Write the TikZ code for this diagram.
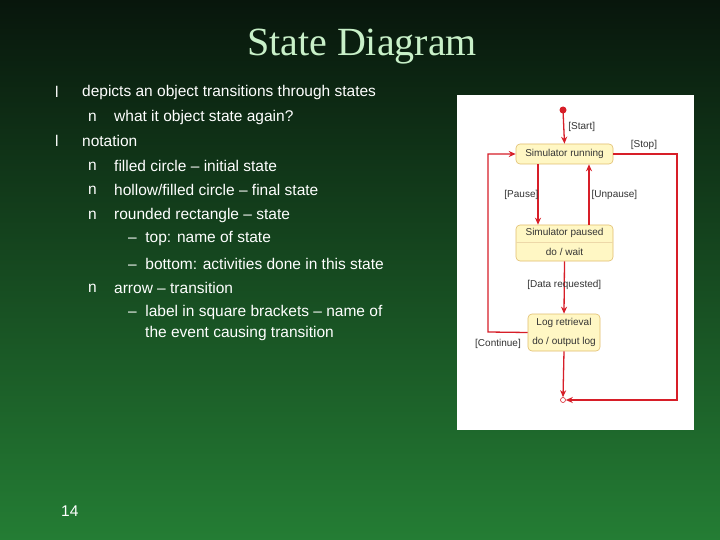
\documentclass[tikz,border=0pt]{standalone}
\usepackage{fontspec}
\setmainfont{Liberation Sans}
\newfontfamily\titlefont{Liberation Serif}
\usetikzlibrary{arrows.meta}
\definecolor{bgtop}{RGB}{8,22,12}
\definecolor{bgbot}{RGB}{36,125,52}
\definecolor{ttl}{RGB}{200,240,200}
\definecolor{arr}{RGB}{215,30,40}
\definecolor{stfill}{RGB}{255,247,196}
\definecolor{stdraw}{RGB}{225,190,110}
\tikzset{
 body/.style={anchor=west,text=white,font=\fontsize{15.5}{18}\selectfont,inner sep=0},
 state/.style={draw=stdraw,fill=stfill,rounded corners=4pt,line width=0.6pt},
 lbl/.style={font=\fontsize{10}{12}\selectfont,text=black!80,inner sep=1pt},
 tr/.style={draw=arr,line width=1.3pt,-{Stealth[length=7pt,width=6pt]}},
}
\begin{document}
\begin{tikzpicture}[x=1pt,y=-1pt]
\shade[top color=bgtop,bottom color=bgbot] (0,0) rectangle (720,540);
\useasboundingbox (0,0) rectangle (720,540);
\node[text=ttl,font=\titlefont\fontsize{40}{44}\selectfont] (title) at (362,47) {State Diagram};
\node[body] (b1) at (55,92) {l};
\node[body] (t1) at (82,92) {depicts an object transitions through states};
\node[body] (b2) at (88,117) {n};
\node[body] (t2) at (114,117) {what it object state again?};
\node[body] (b3) at (55,141) {l};
\node[body] (t3) at (82,141) {notation};
\node[body] (b4) at (88,166) {n};
\node[body] (t4) at (114,166) {filled circle -- initial state};
\node[body] (b5) at (88,190) {n};
\node[body] (t5) at (114,190) {hollow/filled circle -- final state};
\node[body] (b6) at (88,215) {n};
\node[body] (t6) at (114,215) {rounded rectangle -- state};
\node[body] (t7) at (128,239) {--\ \ top: name of state};
\node[body] (t8) at (128,264) {--\ \ bottom: activities done in this state};
\node[body] (b9) at (88,288) {n};
\node[body] (t9) at (114,288) {arrow -- transition};
\node[body] (t10) at (128,312) {--\ \ label in square brackets -- name of};
\node[body] (t11) at (145,333) {the event causing transition};
\node[body] (pg) at (61,511) {14};
% diagram panel
\fill[white] (457,95) rectangle (694,430);
\fill[arr] (563,110) circle (3.5pt);
\coordinate (init) at (563,110);
\node[state,minimum width=97,minimum height=20] (run) at (564.5,154) {};
\node[lbl] at (run) {Simulator running};
\node[state,minimum width=97,minimum height=36] (pau) at (564.5,243) {};
\draw[stdraw!60,line width=0.5pt] (516,242) -- (613,242);
\node[lbl] (paut) at (564.5,233) {Simulator paused};
\node[lbl] (paub) at (564.5,252) {do / wait};
\node[state,minimum width=72,minimum height=37] (log) at (564,332.5) {};
\node[lbl] (logt) at (564,323) {Log retrieval};
\node[lbl] (logb) at (564,342) {do / output log};
\node[draw=arr,circle,inner sep=0,minimum size=5pt,line width=0.6pt] (fin) at (563,400) {};
\draw[tr] (init) -- (run.north) node[lbl,midway,right=3pt] {[Start]};
\draw[tr] (run.south -| 538,0) -- (pau.north -| 538,0) node[lbl,midway,left=-2pt] {[Pause]};
\draw[tr] (pau.north -| 589,0) -- (run.south -| 589,0) node[lbl,midway,right=1pt] {[Unpause]};
\draw[tr] (pau.south) -- (log.north) node[lbl,pos=0.45] {[Data requested]};
\draw[tr] (log.south) -- (fin.north);
\draw[tr] (run.east) -- (677,154) -- (677,400) -- (fin.east);
\node[lbl] (stop) at (644,145) {[Stop]};
\draw[tr] (log.west) -- (488,332) -- (488,154) -- (run.west);
\node[lbl] (cont) at (498,344) {[Continue]};
\end{tikzpicture}
\end{document}
